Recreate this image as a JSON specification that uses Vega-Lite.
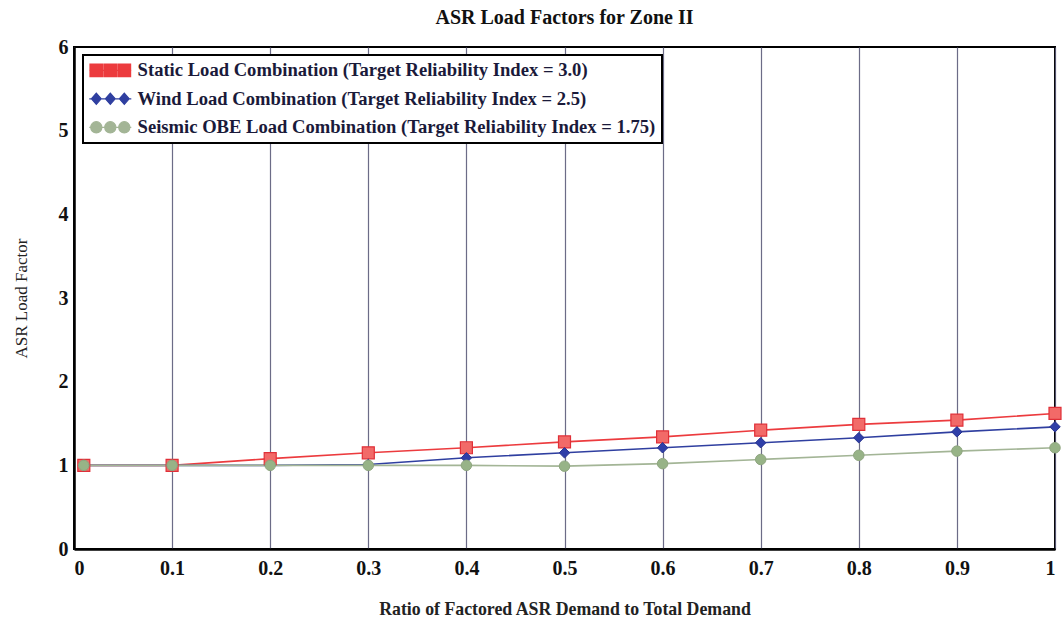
{
  "$schema": "https://vega.github.io/schema/vega-lite/v6.json",
  "autosize": {"type": "none"},
  "padding": {"left": 74, "top": 47, "right": 8, "bottom": 76},
  "width": 981,
  "height": 502,
  "background": "white",
  "config": {
    "font": "Liberation Serif",
    "view": {"stroke": "black", "strokeWidth": 2}
  },
  "title": {
    "text": "ASR Load Factors for Zone II",
    "font": "Liberation Serif",
    "fontSize": 20,
    "fontWeight": "bold",
    "color": "#111",
    "offset": 9
  },
  "data": {
    "values": [
      {"x": 0.01, "y": 1.0, "series": "Static Load Combination (Target Reliability Index = 3.0)"},
      {"x": 0.1, "y": 1.0, "series": "Static Load Combination (Target Reliability Index = 3.0)"},
      {"x": 0.2, "y": 1.08, "series": "Static Load Combination (Target Reliability Index = 3.0)"},
      {"x": 0.3, "y": 1.15, "series": "Static Load Combination (Target Reliability Index = 3.0)"},
      {"x": 0.4, "y": 1.21, "series": "Static Load Combination (Target Reliability Index = 3.0)"},
      {"x": 0.5, "y": 1.28, "series": "Static Load Combination (Target Reliability Index = 3.0)"},
      {"x": 0.6, "y": 1.34, "series": "Static Load Combination (Target Reliability Index = 3.0)"},
      {"x": 0.7, "y": 1.42, "series": "Static Load Combination (Target Reliability Index = 3.0)"},
      {"x": 0.8, "y": 1.49, "series": "Static Load Combination (Target Reliability Index = 3.0)"},
      {"x": 0.9, "y": 1.54, "series": "Static Load Combination (Target Reliability Index = 3.0)"},
      {"x": 1.0, "y": 1.62, "series": "Static Load Combination (Target Reliability Index = 3.0)"},
      {"x": 0.01, "y": 1.0, "series": "Wind Load Combination (Target Reliability Index = 2.5)"},
      {"x": 0.1, "y": 1.0, "series": "Wind Load Combination (Target Reliability Index = 2.5)"},
      {"x": 0.2, "y": 1.0, "series": "Wind Load Combination (Target Reliability Index = 2.5)"},
      {"x": 0.3, "y": 1.01, "series": "Wind Load Combination (Target Reliability Index = 2.5)"},
      {"x": 0.4, "y": 1.09, "series": "Wind Load Combination (Target Reliability Index = 2.5)"},
      {"x": 0.5, "y": 1.15, "series": "Wind Load Combination (Target Reliability Index = 2.5)"},
      {"x": 0.6, "y": 1.21, "series": "Wind Load Combination (Target Reliability Index = 2.5)"},
      {"x": 0.7, "y": 1.27, "series": "Wind Load Combination (Target Reliability Index = 2.5)"},
      {"x": 0.8, "y": 1.33, "series": "Wind Load Combination (Target Reliability Index = 2.5)"},
      {"x": 0.9, "y": 1.4, "series": "Wind Load Combination (Target Reliability Index = 2.5)"},
      {"x": 1.0, "y": 1.46, "series": "Wind Load Combination (Target Reliability Index = 2.5)"},
      {"x": 0.01, "y": 1.0, "series": "Seismic OBE Load Combination (Target Reliability Index = 1.75)"},
      {"x": 0.1, "y": 1.0, "series": "Seismic OBE Load Combination (Target Reliability Index = 1.75)"},
      {"x": 0.2, "y": 1.0, "series": "Seismic OBE Load Combination (Target Reliability Index = 1.75)"},
      {"x": 0.3, "y": 1.0, "series": "Seismic OBE Load Combination (Target Reliability Index = 1.75)"},
      {"x": 0.4, "y": 1.0, "series": "Seismic OBE Load Combination (Target Reliability Index = 1.75)"},
      {"x": 0.5, "y": 0.99, "series": "Seismic OBE Load Combination (Target Reliability Index = 1.75)"},
      {"x": 0.6, "y": 1.02, "series": "Seismic OBE Load Combination (Target Reliability Index = 1.75)"},
      {"x": 0.7, "y": 1.07, "series": "Seismic OBE Load Combination (Target Reliability Index = 1.75)"},
      {"x": 0.8, "y": 1.12, "series": "Seismic OBE Load Combination (Target Reliability Index = 1.75)"},
      {"x": 0.9, "y": 1.17, "series": "Seismic OBE Load Combination (Target Reliability Index = 1.75)"},
      {"x": 1.0, "y": 1.21, "series": "Seismic OBE Load Combination (Target Reliability Index = 1.75)"}
    ]
  },
  "encoding": {
    "x": {
      "field": "x", "type": "quantitative",
      "scale": {"domain": [0, 1], "nice": false, "zero": false},
      "axis": {
        "title": "Ratio of Factored ASR Demand to Total Demand",
        "titleFont": "Liberation Serif", "titleFontSize": 17.8, "titleFontWeight": "bold", "titleColor": "#222",
        "titlePadding": 22,
        "values": [0, 0.1, 0.2, 0.3, 0.4, 0.5, 0.6, 0.7, 0.8, 0.9, 1],
        "labelExpr": "datum.value == 0 ? '0' : datum.value == 1 ? '1' : format(datum.value, '.1f')",
        "labelFont": "Liberation Serif", "labelFontSize": 20, "labelFontWeight": "bold", "labelColor": "#111",
        "labelPadding": 9,
        "grid": true, "gridColor": "#5c5c7a", "gridWidth": 1.2, "gridOpacity": 0.9,
        "domain": true, "domainColor": "black", "domainWidth": 2.5,
        "ticks": false
      }
    },
    "y": {
      "field": "y", "type": "quantitative",
      "scale": {"domain": [0, 6], "nice": false},
      "axis": {
        "title": "ASR Load Factor",
        "titleFont": "Liberation Serif", "titleFontSize": 17, "titleFontWeight": "normal", "titleColor": "#222",
        "titlePadding": 28,
        "values": [0, 1, 2, 3, 4, 5, 6],
        "labelFont": "Liberation Serif", "labelFontSize": 20, "labelFontWeight": "bold", "labelColor": "#111",
        "labelPadding": 6,
        "grid": false,
        "domain": true, "domainColor": "black", "domainWidth": 2.5,
        "ticks": false
      }
    }
  },
  "layer": [
    {
      "mark": {"type": "line", "strokeWidth": 1.6},
      "encoding": {
        "color": {
          "field": "series", "type": "nominal",
          "scale": {
            "domain": [
              "Static Load Combination (Target Reliability Index = 3.0)",
              "Wind Load Combination (Target Reliability Index = 2.5)",
              "Seismic OBE Load Combination (Target Reliability Index = 1.75)"
            ],
            "range": ["#ec3b3e", "#2f3fa0", "#a3b596"]
          },
          "legend": {
            "title": null,
            "orient": "none",
            "legendX": 9,
            "legendY": 8,
            "direction": "vertical",
            "strokeColor": "black",
            "fillColor": "white",
            "padding": 6,
            "rowPadding": 9.5,
            "symbolSize": 196,
            "symbolStrokeWidth": 1.2,
            "symbolOpacity": 1,
            "symbolOffset": 12,
            "labelOffset": 18,
            "labelFont": "Liberation Serif",
            "labelFontSize": 18.6,
            "labelFontWeight": "bold",
            "labelColor": "#1a1a3a",
            "labelLimit": 700,
            "encode": {
              "legend": {"update": {"strokeWidth": {"value": 2}}}
            }
          }
        }
      }
    },
    {
      "mark": {"type": "point", "filled": true, "opacity": 0, "strokeWidth": 1.2},
      "encoding": {
        "color": {"field": "series", "type": "nominal"},
        "stroke": {
          "field": "series", "type": "nominal",
          "scale": {
            "domain": [
              "Static Load Combination (Target Reliability Index = 3.0)",
              "Wind Load Combination (Target Reliability Index = 2.5)",
              "Seismic OBE Load Combination (Target Reliability Index = 1.75)"
            ],
            "range": ["#e03038", "#2a3590", "#9aab8e"]
          }
        },
        "shape": {
          "field": "series", "type": "nominal",
          "scale": {
            "domain": [
              "Static Load Combination (Target Reliability Index = 3.0)",
              "Wind Load Combination (Target Reliability Index = 2.5)",
              "Seismic OBE Load Combination (Target Reliability Index = 1.75)"
            ],
            "range": [
              "M-3,0L3,0M-2.9,-0.9h1.8v1.8h-1.8zM-0.9,-0.9h1.8v1.8h-1.8zM1.1,-0.9h1.8v1.8h-1.8z",
              "M-3,0L3,0M-2,-0.8L-1.3,0L-2,0.8L-2.7,0zM0,-0.8L0.7,0L0,0.8L-0.7,0zM2,-0.8L2.7,0L2,0.8L1.3,0z",
              "M-3,0L3,0M-1.2,0a0.8,0.8 0 1,0 -1.6,0a0.8,0.8 0 1,0 1.6,0zM0.8,0a0.8,0.8 0 1,0 -1.6,0a0.8,0.8 0 1,0 1.6,0zM2.8,0a0.8,0.8 0 1,0 -1.6,0a0.8,0.8 0 1,0 1.6,0z"
            ]
          }
        }
      }
    },
    {
      "transform": [{"filter": "indexof(datum.series, 'Static') == 0"}],
      "mark": {"type": "point", "shape": "square", "filled": true, "size": 144, "fill": "#f26a68", "stroke": "#e03038", "strokeWidth": 1.2, "opacity": 1}
    },
    {
      "transform": [{"filter": "indexof(datum.series, 'Wind') == 0"}],
      "mark": {"type": "point", "shape": "diamond", "filled": true, "size": 110, "fill": "#2f3fa8", "stroke": "#2a3590", "strokeWidth": 1, "opacity": 1}
    },
    {
      "transform": [{"filter": "indexof(datum.series, 'Seismic') == 0"}],
      "mark": {"type": "point", "shape": "circle", "filled": true, "size": 110, "fill": "#97b387", "stroke": "#8fa680", "strokeWidth": 1, "opacity": 1}
    }
  ]
}
